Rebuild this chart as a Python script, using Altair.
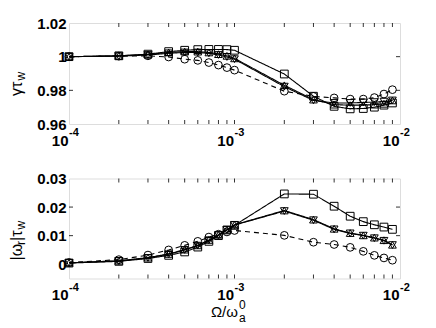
import altair as alt
import pandas as pd

# ---------------- data ----------------
omega = [1e-4, 2e-4, 3e-4, 4e-4, 5e-4, 6e-4, 7e-4, 8e-4, 9e-4,
         1e-3, 2e-3, 3e-3, 4e-3, 5e-3, 6e-3, 7e-3, 8e-3, 9e-3]
series = ["square", "triangle-up", "triangle-down", "circle"]

gamma_square = [1.0000, 1.0005, 1.0015, 1.0030, 1.0038, 1.0042, 1.0043, 1.0043, 1.0042,
                1.0038, 0.9897, 0.9765, 0.9705, 0.9690, 0.9692, 0.9700, 0.9712, 0.9725]
gamma_tri_up = [1.0000, 1.0005, 1.0013, 1.0025, 1.0030, 1.0030, 1.0025, 1.0015, 1.0005,
                0.9990, 0.9830, 0.9745, 0.9715, 0.9712, 0.9712, 0.9715, 0.9720, 0.9740]
gamma_tri_dn = [1.0000, 1.0003, 1.0010, 1.0020, 1.0025, 1.0025, 1.0020, 1.0010, 0.9998,
                0.9985, 0.9822, 0.9740, 0.9725, 0.9725, 0.9728, 0.9730, 0.9733, 0.9740]
gamma_circle = [1.0000, 1.0003, 1.0005, 0.9998, 0.9985, 0.9978, 0.9965, 0.9950, 0.9935,
                0.9920, 0.9795, 0.9764, 0.9755, 0.9748, 0.9748, 0.9757, 0.9778, 0.9804]

omr_square = [0.0004, 0.0010, 0.0020, 0.0031, 0.0043, 0.0060, 0.0080, 0.0100, 0.0120,
              0.0136, 0.0246, 0.0245, 0.0203, 0.0168, 0.0149, 0.0138, 0.0130, 0.0122]
omr_tri_up = [0.0005, 0.0012, 0.0023, 0.0036, 0.0051, 0.0066, 0.0085, 0.0103, 0.0121,
              0.0138, 0.0188, 0.0156, 0.0124, 0.0109, 0.0101, 0.0093, 0.0084, 0.0068]
omr_tri_dn = [0.0005, 0.0011, 0.0022, 0.0035, 0.0050, 0.0065, 0.0084, 0.0102, 0.0120,
              0.0137, 0.0186, 0.0154, 0.0122, 0.0108, 0.0100, 0.0091, 0.0082, 0.0067]
omr_circle = [0.0006, 0.0016, 0.0032, 0.0050, 0.0066, 0.0080, 0.0095, 0.0105, 0.0113,
              0.0118, 0.0101, 0.0077, 0.0069, 0.0059, 0.0045, 0.0031, 0.0022, 0.0014]

x_minor_ticks = [2e-4, 3e-4, 4e-4, 5e-4, 6e-4, 7e-4, 8e-4, 9e-4, 1e-3,
                 2e-3, 3e-3, 4e-3, 5e-3, 6e-3, 7e-3, 8e-3, 9e-3]
x_major = [1e-4, 1e-3, 1e-2]
x_major_exp = ["-4", "-3", "-2"]

top_yticks = [0.96, 0.98, 1.0, 1.02]
bot_yticks = [0.0, 0.01, 0.02, 0.03]

W = 331
H1 = 101
H2 = 100
FONT = "Liberation Sans"


def long(vals):
    rows = []
    for s, ys in vals.items():
        for x, y in zip(omega, ys):
            rows.append({"x": x, "y": y, "s": s})
    return pd.DataFrame(rows)


def text_item(txt, x, y, size=16, angle=0, align="center", dx=0, dy=0,
              weight="normal", baseline="middle"):
    props = dict(font=FONT, fontSize=size, align=align, baseline=baseline,
                 dx=dx, dy=dy, fontWeight=weight, color="black")
    if angle:
        props["angle"] = angle
    return alt.Chart(pd.DataFrame({"t": [txt]})).mark_text(**props).encode(
        x=alt.value(x), y=alt.value(y), text="t:N")


def panel(df, ydom, yvals, label_expr, H, title_items):
    xs = alt.Scale(type="log", domain=[1e-4, 1e-2], nice=False)
    ys = alt.Scale(domain=ydom, nice=False, zero=False)
    yaxis = alt.Axis(
        values=yvals, labelExpr=label_expr, ticks=False, domain=False,
        grid=False, title=None, labelFont=FONT, labelFontSize=15,
        labelFontWeight="bold", labelPadding=3, labelColor="black",
        labelOverlap=False)
    base = alt.Chart(df)
    lines = base.mark_line(color="black", strokeWidth=1.1).encode(
        x=alt.X("x:Q", scale=xs, axis=None),
        y=alt.Y("y:Q", scale=ys, axis=yaxis),
        strokeDash=alt.StrokeDash("s:N", scale=alt.Scale(
            domain=series, range=[[1, 0], [1, 0], [1, 0], [5, 4]]), legend=None),
        detail="s:N",
    )
    pts = base.mark_point(filled=False, color="black", strokeWidth=1,
                          opacity=1).encode(
        x=alt.X("x:Q", scale=xs, axis=None),
        y=alt.Y("y:Q", scale=ys, axis=yaxis),
        shape=alt.Shape("s:N", scale=alt.Scale(domain=series, range=series),
                        legend=None),
        size=alt.Size("s:N", scale=alt.Scale(domain=series,
                                             range=[60, 60, 60, 95]),
                      legend=None),
    )
    xt = alt.Chart(pd.DataFrame({"v": x_minor_ticks}))
    xtick_top = xt.mark_rule(color="black", strokeWidth=0.8).encode(
        x=alt.X("v:Q", scale=xs, axis=None), y=alt.value(0), y2=alt.value(4))
    xtick_bot = xt.mark_rule(color="black", strokeWidth=0.8).encode(
        x=alt.X("v:Q", scale=xs, axis=None), y=alt.value(H), y2=alt.value(H - 4))
    yt = alt.Chart(pd.DataFrame({"v": yvals[1:-1]}))
    ytick_l = yt.mark_rule(color="black", strokeWidth=0.8).encode(
        y=alt.Y("v:Q", scale=ys, axis=yaxis), x=alt.value(0), x2=alt.value(4))
    ytick_r = yt.mark_rule(color="black", strokeWidth=0.8).encode(
        y=alt.Y("v:Q", scale=ys, axis=yaxis), x=alt.value(W), x2=alt.value(W - 4))
    xm = alt.Chart(pd.DataFrame({"v": x_major, "e": x_major_exp}))
    xl_base = xm.mark_text(font=FONT, fontSize=15, fontWeight="bold",
                           align="right", baseline="middle", dx=-0.5,
                           color="black").encode(
        x=alt.X("v:Q", scale=xs, axis=None), y=alt.value(H + 16.5),
        text=alt.value("10"))
    xl_exp = xm.mark_text(font=FONT, fontSize=11, fontWeight="bold",
                          align="left", baseline="middle", dx=0,
                          color="black").encode(
        x=alt.X("v:Q", scale=xs, axis=None), y=alt.value(H + 9),
        text="e:N")
    layers = [lines, pts, xtick_top, xtick_bot, ytick_l, ytick_r,
              xl_base, xl_exp] + title_items
    return alt.layer(*layers).properties(width=W, height=H)


top_df = long({"square": gamma_square, "triangle-up": gamma_tri_up,
               "triangle-down": gamma_tri_dn, "circle": gamma_circle})
bot_df = long({"square": omr_square, "triangle-up": omr_tri_up,
               "triangle-down": omr_tri_dn, "circle": omr_circle})

# y-title pieces (rotated, reading upward)
tx = -52
top_titles = [
    text_item("γτ", tx, 73, size=16, angle=270, align="left"),
    text_item("w", tx, 73, size=12, angle=270, align="left", dx=15.5, dy=4),
]
by = 82
bot_titles = [
    text_item("|ω", tx, by, size=16, angle=270, align="left"),
    text_item("r", tx, by, size=12, angle=270, align="left", dx=15.5, dy=4),
    text_item("|τ", tx, by, size=16, angle=270, align="left", dx=19.5),
    text_item("w", tx, by, size=12, angle=270, align="left", dx=31, dy=4),
    text_item("Ω/ω", 169, 133, size=15, align="right"),
    text_item("0", 170, 126, size=12, align="left"),
    text_item("a", 170, 139, size=12, align="left"),
]

top = panel(top_df, [0.96, 1.02], top_yticks,
            "datum.value == 1 ? '1' : format(datum.value, '.2f')", H1, top_titles)
bot = panel(bot_df, [-0.005, 0.03], bot_yticks,
            "datum.value == 0 ? '0' : format(datum.value, '.2f')", H2, bot_titles)

chart = alt.VConcatChart(vconcat=[top, bot], spacing=54.5, bounds="flush").properties(
    padding={"left": 0, "top": 7, "right": 5, "bottom": 0}
).configure_view(stroke="black", strokeWidth=1).configure(background="white")

chart.save("out.html", embed_options={"renderer": "svg", "actions": False})
